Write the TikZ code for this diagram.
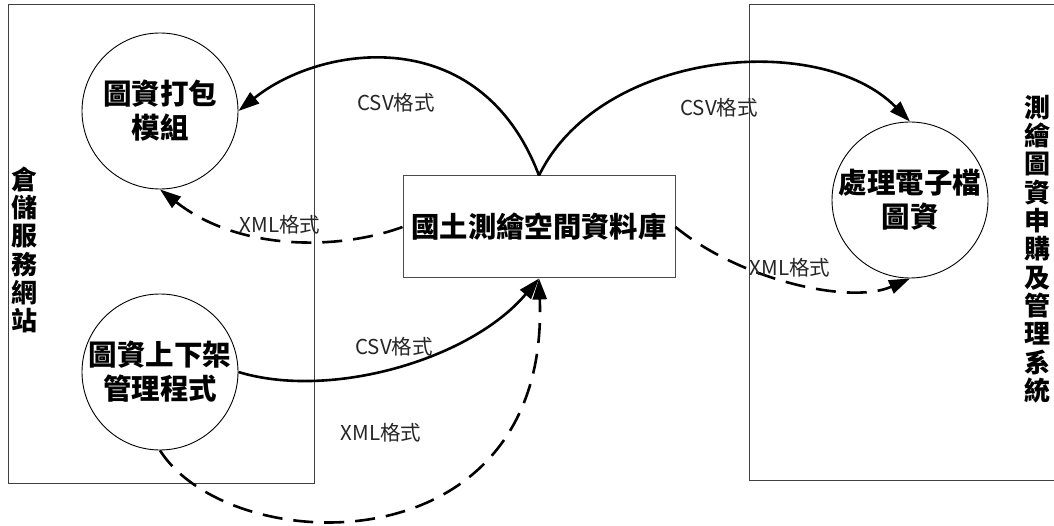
\documentclass[tikz,border=0pt]{standalone}
\usepackage{fontspec}
\setmainfont{Noto Sans CJK TC}
\usetikzlibrary{arrows.meta}
\begin{document}
\begin{tikzpicture}[x=1pt,y=-1pt,
  proc/.style={circle, draw=black, line width=0.9pt, minimum size=156pt, inner sep=0pt, align=center, font=\fontsize{28.5}{34}\selectfont\bfseries},
  store/.style={rectangle, draw=black!70, line width=1pt, minimum width=272pt, minimum height=102pt, font=\fontsize{28.3}{32}\selectfont\bfseries},
  sysbox/.style={rectangle, draw=black!75, line width=1pt, inner sep=0pt},
  vlabel/.style={align=center, inner sep=0pt, font=\fontsize{26}{28.3}\selectfont\bfseries},
  flow/.style={line width=2.6pt, -{Triangle[length=21pt,width=14pt]}},
  xflow/.style={flow, dash pattern=on 20pt off 11pt},
  lbl/.style={inner sep=0pt, font=\fontsize{20.5}{24}\selectfont, text=black!85}]
\useasboundingbox (0,0) rectangle (1054,526);
\fill[white] (0,0) rectangle (1054,526);

% system boundaries
\node[sysbox, minimum width=306pt, minimum height=478pt] (lsys) at (161,244) {};
\node[sysbox, minimum width=308pt, minimum height=475pt] (rsys) at (903,242.5) {};
\node[vlabel] (lsyslbl) at (24,250) {倉\\儲\\服\\務\\網\\站};
\node[vlabel] (rsyslbl) at (1037,249) {測\\繪\\圖\\資\\申\\購\\及\\管\\理\\系\\統};

% processes and store
\node[proc] (c1) at (160,111) {圖資打包\\模組};
\node[proc] (c2) at (160,372) {圖資上下架\\管理程式};
\node[proc] (c3) at (910,200) {處理電子檔\\圖資};
\node[store] (db) at (539,227) {國土測繪空間資料庫};

% flows
\draw[flow] (db.north) .. controls (480,20) and (320,45) .. (c1.east);
\draw[flow] (db.north) .. controls (600,50) and (820,30) .. (c3.north);
\draw[xflow] (db.west) .. controls (340,250) and (240,252) .. (c1.south);
\draw[xflow] (db.east) .. controls (740,280) and (850,305) .. (c3.south);
\draw[flow] (c2.east) .. controls (330,400) and (470,360) .. (db.south);
\draw[xflow] (c2.south) .. controls (230,560) and (550,570) .. (db.south);

% labels
\node[lbl] (l1) at (396,103) {CSV格式};
\node[lbl] (l2) at (719,108) {CSV格式};
\node[lbl] (l3) at (280,225) {XML格式};
\node[lbl] (l4) at (790,268) {XML格式};
\node[lbl] (l5) at (394,347) {CSV格式};
\node[lbl] (l6) at (381,433) {XML格式};
\end{tikzpicture}
\end{document}
